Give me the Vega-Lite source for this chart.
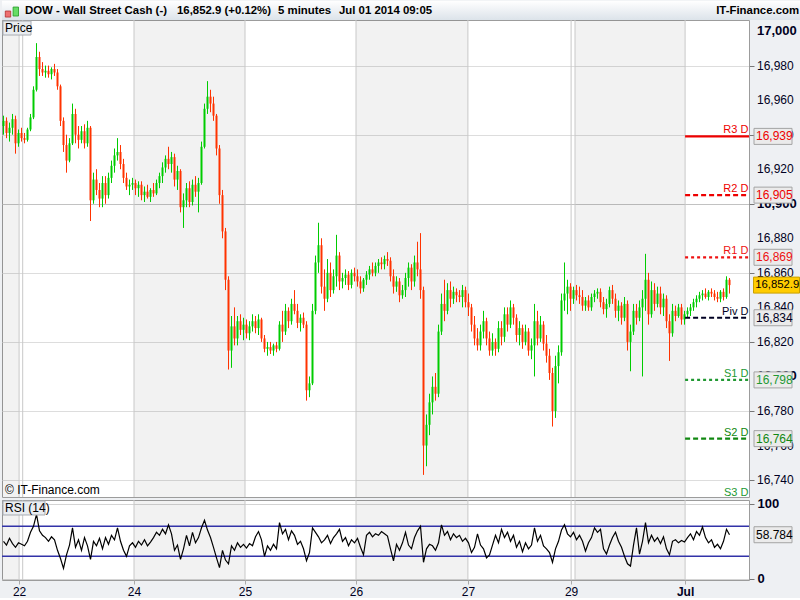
{
"$schema": "https://vega.github.io/schema/vega-lite/v6.json",
"background": "#eef0f3",
"padding": 0,
"spacing": 3,
"bounds": "flush",
"config": {
  "view": {"stroke": "#9c9c9c", "fill": "#ffffff"},
  "font": "Liberation Sans",
  "axis": {"labelFont": "Liberation Sans", "titleFont": "Liberation Sans", "labelOverlap": false},
  "text": {"font": "Liberation Sans"}
},
"resolve": {"scale": {"x": "independent", "y": "independent"}},
"datasets": {
  "one": [{"k": 1}],
  "yticks": [{"p":16740},{"p":16760},{"p":16780},{"p":16800},{"p":16820},{"p":16840},{"p":16860},{"p":16880},{"p":16900},{"p":16920},{"p":16940},{"p":16960},{"p":16980},{"p":17000}],
  "bands": [{"a": -0.5, "b": 5.2}, {"a": 43.5, "b": 80.5}, {"a": 117.5, "b": 154.8}, {"a": 190.5, "b": 227.2}],
  "days": [{"t": 5.2}, {"t": 6.4}, {"t": 43.5}, {"t": 80.5}, {"t": 117.5}, {"t": 154.8}, {"t": 189.2}, {"t": 190.5}, {"t": 227.2}],
  "pivots": [{"name": "R3 D", "v": 16939}, {"name": "R2 D", "v": 16905}, {"name": "R1 D", "v": 16869}, {"name": "Piv D", "v": 16834}, {"name": "S1 D", "v": 16798}, {"name": "S2 D", "v": 16764}, {"name": "S3 D", "v": 16729}],
  "candles": [
{"i":0,"o":16945,"h":16951,"l":16940,"c":16948,"r":50},
{"i":1,"o":16948,"h":16950,"l":16938,"c":16941,"r":45},
{"i":2,"o":16941,"h":16947,"l":16936,"c":16944,"r":54},
{"i":3,"o":16944,"h":16952,"l":16940,"c":16949,"r":47},
{"i":4,"o":16949,"h":16951,"l":16929,"c":16935,"r":42},
{"i":5,"o":16935,"h":16943,"l":16933,"c":16941,"r":48},
{"i":6,"o":16941,"h":16944,"l":16936,"c":16938,"r":46},
{"i":7,"o":16938,"h":16941,"l":16935,"c":16937,"r":44},
{"i":8,"o":16937,"h":16944,"l":16936,"c":16943,"r":50},
{"i":9,"o":16943,"h":16952,"l":16942,"c":16950,"r":62},
{"i":10,"o":16950,"h":16968,"l":16949,"c":16966,"r":70},
{"i":11,"o":16966,"h":16993,"l":16965,"c":16985,"r":86},
{"i":12,"o":16985,"h":16988,"l":16974,"c":16978,"r":64},
{"i":13,"o":16978,"h":16982,"l":16974,"c":16976,"r":58},
{"i":14,"o":16976,"h":16980,"l":16973,"c":16977,"r":55},
{"i":15,"o":16977,"h":16980,"l":16973,"c":16975,"r":50},
{"i":16,"o":16975,"h":16979,"l":16972,"c":16978,"r":56},
{"i":17,"o":16978,"h":16981,"l":16974,"c":16976,"r":52},
{"i":18,"o":16976,"h":16978,"l":16966,"c":16968,"r":38},
{"i":19,"o":16968,"h":16969,"l":16945,"c":16948,"r":27},
{"i":20,"o":16948,"h":16950,"l":16930,"c":16934,"r":14},
{"i":21,"o":16934,"h":16940,"l":16918,"c":16925,"r":32},
{"i":22,"o":16925,"h":16938,"l":16924,"c":16935,"r":45},
{"i":23,"o":16935,"h":16958,"l":16934,"c":16952,"r":68},
{"i":24,"o":16952,"h":16955,"l":16935,"c":16940,"r":42},
{"i":25,"o":16940,"h":16945,"l":16932,"c":16937,"r":52},
{"i":26,"o":16937,"h":16945,"l":16935,"c":16942,"r":38},
{"i":27,"o":16942,"h":16946,"l":16932,"c":16935,"r":55},
{"i":28,"o":16935,"h":16948,"l":16933,"c":16944,"r":44},
{"i":29,"o":16944,"h":16945,"l":16890,"c":16902,"r":26},
{"i":30,"o":16902,"h":16918,"l":16900,"c":16914,"r":50},
{"i":31,"o":16914,"h":16920,"l":16905,"c":16908,"r":44},
{"i":32,"o":16908,"h":16912,"l":16898,"c":16903,"r":54},
{"i":33,"o":16903,"h":16916,"l":16898,"c":16912,"r":40},
{"i":34,"o":16912,"h":16916,"l":16900,"c":16905,"r":55},
{"i":35,"o":16905,"h":16918,"l":16903,"c":16915,"r":46},
{"i":36,"o":16915,"h":16925,"l":16912,"c":16922,"r":58},
{"i":37,"o":16922,"h":16932,"l":16918,"c":16928,"r":52},
{"i":38,"o":16928,"h":16938,"l":16925,"c":16930,"r":68},
{"i":39,"o":16930,"h":16934,"l":16920,"c":16923,"r":50},
{"i":40,"o":16923,"h":16926,"l":16912,"c":16915,"r":38},
{"i":41,"o":16915,"h":16918,"l":16908,"c":16910,"r":30},
{"i":42,"o":16910,"h":16914,"l":16905,"c":16911,"r":44},
{"i":43,"o":16911,"h":16915,"l":16908,"c":16912,"r":48},
{"i":44,"o":16912,"h":16914,"l":16905,"c":16909,"r":42},
{"i":45,"o":16909,"h":16913,"l":16904,"c":16911,"r":50},
{"i":46,"o":16911,"h":16913,"l":16902,"c":16905,"r":45},
{"i":47,"o":16905,"h":16910,"l":16901,"c":16907,"r":52},
{"i":48,"o":16907,"h":16911,"l":16903,"c":16904,"r":44},
{"i":49,"o":16904,"h":16909,"l":16901,"c":16908,"r":49},
{"i":50,"o":16908,"h":16912,"l":16904,"c":16906,"r":55},
{"i":51,"o":16906,"h":16914,"l":16905,"c":16912,"r":62},
{"i":52,"o":16912,"h":16918,"l":16909,"c":16916,"r":58},
{"i":53,"o":16916,"h":16924,"l":16912,"c":16921,"r":66},
{"i":54,"o":16921,"h":16928,"l":16918,"c":16926,"r":60},
{"i":55,"o":16926,"h":16933,"l":16920,"c":16923,"r":72},
{"i":56,"o":16923,"h":16930,"l":16918,"c":16927,"r":60},
{"i":57,"o":16927,"h":16929,"l":16910,"c":16914,"r":38},
{"i":58,"o":16914,"h":16922,"l":16908,"c":16919,"r":45},
{"i":59,"o":16919,"h":16920,"l":16895,"c":16898,"r":26},
{"i":60,"o":16898,"h":16906,"l":16886,"c":16902,"r":40},
{"i":61,"o":16902,"h":16912,"l":16898,"c":16909,"r":58},
{"i":62,"o":16909,"h":16913,"l":16898,"c":16901,"r":44},
{"i":63,"o":16901,"h":16914,"l":16899,"c":16911,"r":62},
{"i":64,"o":16911,"h":16916,"l":16904,"c":16907,"r":48},
{"i":65,"o":16907,"h":16915,"l":16895,"c":16912,"r":55},
{"i":66,"o":16912,"h":16936,"l":16911,"c":16933,"r":68},
{"i":67,"o":16933,"h":16958,"l":16932,"c":16955,"r":78},
{"i":68,"o":16955,"h":16971,"l":16952,"c":16962,"r":65},
{"i":69,"o":16962,"h":16966,"l":16953,"c":16958,"r":55},
{"i":70,"o":16958,"h":16962,"l":16948,"c":16951,"r":42},
{"i":71,"o":16951,"h":16952,"l":16928,"c":16932,"r":28},
{"i":72,"o":16932,"h":16934,"l":16900,"c":16905,"r":15},
{"i":73,"o":16905,"h":16908,"l":16880,"c":16884,"r":38},
{"i":74,"o":16884,"h":16886,"l":16850,"c":16856,"r":25},
{"i":75,"o":16856,"h":16858,"l":16804,"c":16815,"r":20},
{"i":76,"o":16815,"h":16835,"l":16805,"c":16829,"r":44},
{"i":77,"o":16829,"h":16840,"l":16818,"c":16822,"r":38},
{"i":78,"o":16822,"h":16835,"l":16818,"c":16832,"r":48},
{"i":79,"o":16832,"h":16836,"l":16824,"c":16827,"r":42},
{"i":80,"o":16827,"h":16834,"l":16821,"c":16830,"r":46},
{"i":81,"o":16830,"h":16833,"l":16822,"c":16825,"r":41},
{"i":82,"o":16825,"h":16832,"l":16821,"c":16829,"r":47},
{"i":83,"o":16829,"h":16836,"l":16826,"c":16832,"r":44},
{"i":84,"o":16832,"h":16835,"l":16825,"c":16828,"r":56},
{"i":85,"o":16828,"h":16836,"l":16824,"c":16833,"r":63},
{"i":86,"o":16833,"h":16834,"l":16820,"c":16822,"r":52},
{"i":87,"o":16822,"h":16824,"l":16814,"c":16816,"r":30},
{"i":88,"o":16816,"h":16820,"l":16812,"c":16817,"r":44},
{"i":89,"o":16817,"h":16820,"l":16813,"c":16815,"r":38},
{"i":90,"o":16815,"h":16819,"l":16812,"c":16818,"r":46},
{"i":91,"o":16818,"h":16820,"l":16814,"c":16816,"r":40},
{"i":92,"o":16816,"h":16832,"l":16815,"c":16830,"r":75},
{"i":93,"o":16830,"h":16838,"l":16820,"c":16826,"r":60},
{"i":94,"o":16826,"h":16842,"l":16824,"c":16838,"r":66},
{"i":95,"o":16838,"h":16840,"l":16828,"c":16832,"r":52},
{"i":96,"o":16832,"h":16845,"l":16830,"c":16842,"r":64},
{"i":97,"o":16842,"h":16850,"l":16836,"c":16838,"r":58},
{"i":98,"o":16838,"h":16842,"l":16828,"c":16831,"r":46},
{"i":99,"o":16831,"h":16836,"l":16826,"c":16834,"r":50},
{"i":100,"o":16834,"h":16837,"l":16828,"c":16830,"r":40},
{"i":101,"o":16830,"h":16832,"l":16786,"c":16792,"r":24},
{"i":102,"o":16792,"h":16800,"l":16788,"c":16796,"r":35},
{"i":103,"o":16796,"h":16842,"l":16795,"c":16838,"r":68},
{"i":104,"o":16838,"h":16870,"l":16836,"c":16866,"r":62},
{"i":105,"o":16866,"h":16889,"l":16860,"c":16876,"r":56},
{"i":106,"o":16876,"h":16880,"l":16848,"c":16852,"r":48},
{"i":107,"o":16852,"h":16862,"l":16838,"c":16845,"r":52},
{"i":108,"o":16845,"h":16868,"l":16843,"c":16860,"r":58},
{"i":109,"o":16860,"h":16866,"l":16846,"c":16850,"r":47},
{"i":110,"o":16850,"h":16862,"l":16848,"c":16858,"r":55},
{"i":111,"o":16858,"h":16882,"l":16852,"c":16870,"r":60},
{"i":112,"o":16870,"h":16872,"l":16850,"c":16855,"r":66},
{"i":113,"o":16855,"h":16860,"l":16851,"c":16857,"r":50},
{"i":114,"o":16857,"h":16862,"l":16853,"c":16859,"r":55},
{"i":115,"o":16859,"h":16861,"l":16850,"c":16853,"r":44},
{"i":116,"o":16853,"h":16862,"l":16851,"c":16860,"r":52},
{"i":117,"o":16860,"h":16863,"l":16855,"c":16858,"r":48},
{"i":118,"o":16858,"h":16862,"l":16852,"c":16855,"r":54},
{"i":119,"o":16855,"h":16858,"l":16848,"c":16851,"r":42},
{"i":120,"o":16851,"h":16857,"l":16849,"c":16856,"r":32},
{"i":121,"o":16856,"h":16861,"l":16853,"c":16859,"r":58},
{"i":122,"o":16859,"h":16864,"l":16856,"c":16862,"r":62},
{"i":123,"o":16862,"h":16866,"l":16858,"c":16860,"r":56},
{"i":124,"o":16860,"h":16866,"l":16858,"c":16864,"r":60},
{"i":125,"o":16864,"h":16868,"l":16860,"c":16866,"r":58},
{"i":126,"o":16866,"h":16869,"l":16862,"c":16865,"r":63},
{"i":127,"o":16865,"h":16870,"l":16862,"c":16868,"r":60},
{"i":128,"o":16868,"h":16872,"l":16864,"c":16867,"r":57},
{"i":129,"o":16867,"h":16869,"l":16855,"c":16858,"r":40},
{"i":130,"o":16858,"h":16862,"l":16848,"c":16852,"r":24},
{"i":131,"o":16852,"h":16858,"l":16849,"c":16855,"r":46},
{"i":132,"o":16855,"h":16857,"l":16843,"c":16847,"r":38},
{"i":133,"o":16847,"h":16853,"l":16845,"c":16850,"r":48},
{"i":134,"o":16850,"h":16860,"l":16846,"c":16857,"r":62},
{"i":135,"o":16857,"h":16866,"l":16852,"c":16863,"r":45},
{"i":136,"o":16863,"h":16865,"l":16850,"c":16855,"r":40},
{"i":137,"o":16855,"h":16870,"l":16852,"c":16866,"r":55},
{"i":138,"o":16866,"h":16878,"l":16858,"c":16862,"r":64},
{"i":139,"o":16862,"h":16883,"l":16845,"c":16850,"r":70},
{"i":140,"o":16850,"h":16852,"l":16743,"c":16760,"r":22},
{"i":141,"o":16760,"h":16778,"l":16748,"c":16772,"r":40},
{"i":142,"o":16772,"h":16790,"l":16766,"c":16785,"r":46},
{"i":143,"o":16785,"h":16800,"l":16778,"c":16794,"r":44},
{"i":144,"o":16794,"h":16802,"l":16786,"c":16790,"r":38},
{"i":145,"o":16790,"h":16830,"l":16788,"c":16826,"r":48},
{"i":146,"o":16826,"h":16848,"l":16824,"c":16842,"r":72},
{"i":147,"o":16842,"h":16856,"l":16832,"c":16838,"r":58},
{"i":148,"o":16838,"h":16854,"l":16836,"c":16850,"r":63},
{"i":149,"o":16850,"h":16855,"l":16840,"c":16845,"r":52},
{"i":150,"o":16845,"h":16852,"l":16842,"c":16849,"r":60},
{"i":151,"o":16849,"h":16851,"l":16843,"c":16847,"r":55},
{"i":152,"o":16847,"h":16850,"l":16843,"c":16846,"r":58},
{"i":153,"o":16846,"h":16853,"l":16840,"c":16850,"r":50},
{"i":154,"o":16850,"h":16852,"l":16840,"c":16843,"r":54},
{"i":155,"o":16843,"h":16848,"l":16835,"c":16840,"r":48},
{"i":156,"o":16840,"h":16842,"l":16826,"c":16830,"r":35},
{"i":157,"o":16830,"h":16835,"l":16818,"c":16822,"r":42},
{"i":158,"o":16822,"h":16828,"l":16815,"c":16818,"r":60},
{"i":159,"o":16818,"h":16830,"l":16815,"c":16826,"r":45},
{"i":160,"o":16826,"h":16838,"l":16822,"c":16832,"r":40},
{"i":161,"o":16832,"h":16834,"l":16818,"c":16822,"r":28},
{"i":162,"o":16822,"h":16826,"l":16812,"c":16815,"r":32},
{"i":163,"o":16815,"h":16825,"l":16812,"c":16820,"r":45},
{"i":164,"o":16820,"h":16822,"l":16812,"c":16816,"r":58},
{"i":165,"o":16816,"h":16832,"l":16814,"c":16828,"r":48},
{"i":166,"o":16828,"h":16832,"l":16818,"c":16823,"r":66},
{"i":167,"o":16823,"h":16840,"l":16820,"c":16836,"r":55},
{"i":168,"o":16836,"h":16840,"l":16826,"c":16830,"r":62},
{"i":169,"o":16830,"h":16844,"l":16828,"c":16840,"r":50},
{"i":170,"o":16840,"h":16842,"l":16830,"c":16834,"r":58},
{"i":171,"o":16834,"h":16836,"l":16820,"c":16824,"r":42},
{"i":172,"o":16824,"h":16832,"l":16818,"c":16828,"r":50},
{"i":173,"o":16828,"h":16830,"l":16816,"c":16820,"r":36},
{"i":174,"o":16820,"h":16830,"l":16818,"c":16826,"r":48},
{"i":175,"o":16826,"h":16828,"l":16812,"c":16815,"r":40},
{"i":176,"o":16815,"h":16822,"l":16810,"c":16818,"r":45},
{"i":177,"o":16818,"h":16842,"l":16800,"c":16832,"r":68},
{"i":178,"o":16832,"h":16838,"l":16818,"c":16822,"r":50},
{"i":179,"o":16822,"h":16835,"l":16820,"c":16830,"r":58},
{"i":180,"o":16830,"h":16832,"l":16815,"c":16819,"r":44},
{"i":181,"o":16819,"h":16824,"l":16808,"c":16812,"r":40},
{"i":182,"o":16812,"h":16816,"l":16798,"c":16802,"r":35},
{"i":183,"o":16802,"h":16805,"l":16771,"c":16780,"r":22},
{"i":184,"o":16780,"h":16812,"l":16776,"c":16806,"r":40},
{"i":185,"o":16806,"h":16818,"l":16796,"c":16814,"r":50},
{"i":186,"o":16814,"h":16848,"l":16812,"c":16844,"r":65},
{"i":187,"o":16844,"h":16866,"l":16838,"c":16848,"r":72},
{"i":188,"o":16848,"h":16856,"l":16836,"c":16852,"r":60},
{"i":189,"o":16852,"h":16854,"l":16838,"c":16845,"r":56},
{"i":190,"o":16845,"h":16852,"l":16842,"c":16850,"r":62},
{"i":191,"o":16850,"h":16853,"l":16844,"c":16847,"r":52},
{"i":192,"o":16847,"h":16852,"l":16842,"c":16846,"r":58},
{"i":193,"o":16846,"h":16850,"l":16838,"c":16841,"r":50},
{"i":194,"o":16841,"h":16846,"l":16838,"c":16844,"r":37},
{"i":195,"o":16844,"h":16847,"l":16838,"c":16840,"r":48},
{"i":196,"o":16840,"h":16848,"l":16838,"c":16846,"r":55},
{"i":197,"o":16846,"h":16850,"l":16843,"c":16848,"r":68},
{"i":198,"o":16848,"h":16851,"l":16845,"c":16849,"r":62},
{"i":199,"o":16849,"h":16851,"l":16840,"c":16843,"r":66},
{"i":200,"o":16843,"h":16846,"l":16836,"c":16839,"r":40},
{"i":201,"o":16839,"h":16845,"l":16834,"c":16842,"r":33},
{"i":202,"o":16842,"h":16852,"l":16840,"c":16850,"r":45},
{"i":203,"o":16850,"h":16853,"l":16842,"c":16845,"r":55},
{"i":204,"o":16845,"h":16848,"l":16834,"c":16838,"r":62},
{"i":205,"o":16838,"h":16844,"l":16832,"c":16841,"r":50},
{"i":206,"o":16841,"h":16843,"l":16830,"c":16834,"r":42},
{"i":207,"o":16834,"h":16846,"l":16832,"c":16842,"r":30},
{"i":208,"o":16842,"h":16844,"l":16815,"c":16820,"r":20},
{"i":209,"o":16820,"h":16830,"l":16803,"c":16826,"r":17},
{"i":210,"o":16826,"h":16842,"l":16824,"c":16838,"r":45},
{"i":211,"o":16838,"h":16842,"l":16830,"c":16834,"r":68},
{"i":212,"o":16834,"h":16844,"l":16832,"c":16840,"r":33},
{"i":213,"o":16840,"h":16850,"l":16800,"c":16845,"r":50},
{"i":214,"o":16845,"h":16871,"l":16838,"c":16856,"r":75},
{"i":215,"o":16856,"h":16860,"l":16830,"c":16836,"r":48},
{"i":216,"o":16836,"h":16855,"l":16834,"c":16850,"r":58},
{"i":217,"o":16850,"h":16854,"l":16838,"c":16842,"r":50},
{"i":218,"o":16842,"h":16852,"l":16840,"c":16848,"r":55},
{"i":219,"o":16848,"h":16852,"l":16836,"c":16840,"r":47},
{"i":220,"o":16840,"h":16848,"l":16835,"c":16845,"r":56},
{"i":221,"o":16845,"h":16847,"l":16828,"c":16832,"r":40},
{"i":222,"o":16832,"h":16836,"l":16809,"c":16825,"r":32},
{"i":223,"o":16825,"h":16842,"l":16823,"c":16838,"r":50},
{"i":224,"o":16838,"h":16841,"l":16832,"c":16835,"r":52},
{"i":225,"o":16835,"h":16842,"l":16834,"c":16840,"r":48},
{"i":226,"o":16840,"h":16842,"l":16830,"c":16833,"r":51},
{"i":227,"o":16833,"h":16838,"l":16830,"c":16836,"r":49},
{"i":228,"o":16836,"h":16840,"l":16834,"c":16838,"r":55},
{"i":229,"o":16838,"h":16842,"l":16835,"c":16840,"r":60},
{"i":230,"o":16840,"h":16845,"l":16838,"c":16843,"r":52},
{"i":231,"o":16843,"h":16847,"l":16840,"c":16845,"r":63},
{"i":232,"o":16845,"h":16849,"l":16843,"c":16847,"r":58},
{"i":233,"o":16847,"h":16850,"l":16844,"c":16848,"r":69},
{"i":234,"o":16848,"h":16851,"l":16845,"c":16846,"r":55},
{"i":235,"o":16846,"h":16850,"l":16844,"c":16849,"r":48},
{"i":236,"o":16849,"h":16851,"l":16846,"c":16848,"r":52},
{"i":237,"o":16848,"h":16850,"l":16844,"c":16846,"r":42},
{"i":238,"o":16846,"h":16849,"l":16843,"c":16845,"r":46},
{"i":239,"o":16845,"h":16850,"l":16843,"c":16849,"r":40},
{"i":240,"o":16849,"h":16851,"l":16844,"c":16846,"r":50},
{"i":241,"o":16846,"h":16858,"l":16845,"c":16856,"r":66},
{"i":242,"o":16856,"h":16857,"l":16848,"c":16852.9,"r":58.784}
  ]
},
"vconcat": [
{
  "width": 747,
  "height": 477,
  "layer": [
    {"data": {"name": "bands"}, "mark": {"type": "rect", "fill": "#000000", "fillOpacity": 0.05},
     "encoding": {"x": {"field": "a", "type": "quantitative", "scale": {"domain": [-0.5, 248.5], "nice": false, "zero": false, "padding": 0}, "axis": null}, "x2": {"field": "b"}}},
    {"data": {"name": "days"}, "mark": {"type": "rule", "color": "#c8c8c8", "strokeWidth": 1},
     "encoding": {"x": {"field": "t", "type": "quantitative", "axis": null}}},
    {"data": {"name": "candles"}, "mark": {"type": "rule", "strokeWidth": 1},
     "encoding": {
       "x": {"field": "i", "type": "quantitative", "axis": null},
       "y": {"field": "l", "type": "quantitative", "scale": {"domain": [16730.2, 17006.4], "nice": false, "zero": false, "padding": 0},
             "axis": {"orient": "right", "title": null,
                      "values": [16740,16750,16760,16770,16780,16790,16800,16810,16820,16830,16840,16850,16860,16870,16880,16890,16900,16910,16920,16930,16940,16950,16960,16970,16980,16990,17000],
                      "labels": false,
                      "tickSize": {"condition": {"test": "datum.value % 20 === 0", "value": 5}, "value": 3},
                      "tickColor": "#777777", "ticks": true, "grid": true,
                      "gridColor": {"condition": {"test": "datum.value % 100 === 0", "value": "#c2c2c2"}, "value": "#dddddd"},
                      "gridOpacity": {"condition": {"test": "datum.value % 20 !== 0", "value": 0}, "value": 1},
                      "domain": false}},
       "y2": {"field": "h"},
       "color": {"condition": {"test": "datum.c >= datum.o", "value": "#00cc00"}, "value": "#ff3300"}}},
    {"data": {"name": "candles"}, "mark": {"type": "bar", "width": 2},
     "encoding": {
       "x": {"field": "i", "type": "quantitative", "axis": null},
       "y": {"field": "o", "type": "quantitative"},
       "y2": {"field": "c"},
       "color": {"condition": {"test": "datum.c >= datum.o", "value": "#00cc00"}, "value": "#ff3300"}}},
    {"data": {"name": "yticks"}, "transform": [{"filter": "datum.p % 100 !== 0"}],
     "mark": {"type": "text", "align": "left", "baseline": "middle", "fontSize": 12, "color": "#000022", "clip": false},
     "encoding": {
       "x": {"datum": 251.17, "type": "quantitative", "axis": null},
       "y": {"field": "p", "type": "quantitative"},
       "text": {"field": "p", "type": "quantitative", "format": ","}}},
    {"data": {"name": "yticks"}, "transform": [{"filter": "datum.p % 100 === 0"}],
     "mark": {"type": "text", "align": "left", "baseline": "middle", "fontSize": 13, "fontWeight": "bold", "color": "#000022", "clip": false},
     "encoding": {
       "x": {"datum": 251.17, "type": "quantitative", "axis": null},
       "y": {"field": "p", "type": "quantitative"},
       "text": {"field": "p", "type": "quantitative", "format": ","}}},
    {"data": {"name": "pivots"}, "mark": {"type": "rule", "clip": true},
     "encoding": {
       "x": {"datum": 227.2, "type": "quantitative", "axis": null},
       "x2": {"datum": 248.5},
       "y": {"field": "v", "type": "quantitative"},
       "color": {"field": "name", "type": "nominal", "scale": {"domain": ["R3 D","R2 D","R1 D","Piv D","S1 D","S2 D","S3 D"], "range": ["#ee0000","#ee0000","#ee1111","#000022","#229933","#118811","#229933"]}, "legend": null},
       "strokeWidth": {"field": "name", "type": "nominal", "scale": {"domain": ["R3 D","R2 D","R1 D","Piv D","S1 D","S2 D","S3 D"], "range": [2.2, 2.2, 1, 2.5, 1, 2.2, 2.2]}, "legend": null},
       "strokeDash": {"field": "name", "type": "nominal", "scale": {"domain": ["R3 D","R2 D","R1 D","Piv D","S1 D","S2 D","S3 D"], "range": [[1,0],[5,3],[3,3],[5,3],[3,3],[5,3],[5,3]]}, "legend": null}}},
    {"data": {"name": "pivots"}, "mark": {"type": "text", "align": "right", "baseline": "bottom", "dy": -1, "fontSize": 11, "clip": false},
     "encoding": {
       "x": {"datum": 248.3, "type": "quantitative", "axis": null},
       "y": {"field": "v", "type": "quantitative"},
       "text": {"field": "name"},
       "color": {"field": "name", "type": "nominal", "legend": null}}},
    {"data": {"name": "pivots"}, "transform": [{"filter": "datum.name !== 'S3 D'"}],
     "mark": {"type": "rect", "width": 38, "height": 16, "fill": "#ebebeb", "stroke": "#a4a4a4", "strokeWidth": 1, "clip": false},
     "encoding": {
       "x": {"datum": 256.5, "type": "quantitative", "axis": null},
       "y": {"field": "v", "type": "quantitative"}}},
    {"data": {"name": "pivots"}, "transform": [{"filter": "datum.name !== 'S3 D'"}],
     "mark": {"type": "text", "align": "left", "baseline": "middle", "fontSize": 12, "clip": false},
     "encoding": {
       "x": {"datum": 250.83, "type": "quantitative", "axis": null},
       "y": {"field": "v", "type": "quantitative"},
       "text": {"field": "v", "type": "quantitative", "format": ","},
       "color": {"field": "name", "type": "nominal", "legend": null}}},
    {"data": {"name": "candles"}, "transform": [{"filter": "datum.i === 242"}],
     "mark": {"type": "rect", "width": 46, "height": 16, "fill": "#ffcc00", "stroke": "#c9a000", "strokeWidth": 1, "clip": false},
     "encoding": {
       "x": {"datum": 257.67, "type": "quantitative", "axis": null},
       "y": {"field": "c", "type": "quantitative"}}},
    {"data": {"name": "candles"}, "transform": [{"filter": "datum.i === 242"}],
     "mark": {"type": "text", "align": "left", "baseline": "middle", "fontSize": 11.3, "color": "#000000", "clip": false},
     "encoding": {
       "x": {"datum": 250.6, "type": "quantitative", "axis": null},
       "y": {"field": "c", "type": "quantitative"},
       "text": {"field": "c", "type": "quantitative", "format": ",.1f"}}},
    {"data": {"name": "one"}, "mark": {"type": "rect", "clip": false, "fill": {"gradient": "linear", "x1": 0, "y1": 0, "x2": 0, "y2": 1, "stops": [{"offset": 0, "color": "#ffffff"}, {"offset": 1, "color": "#dce3ea"}]}},
     "encoding": {
       "x": {"datum": -0.5, "type": "quantitative", "axis": null}, "x2": {"datum": 266.3},
       "y": {"datum": 17017.5, "type": "quantitative"}, "y2": {"datum": 17006.4}}},
    {"data": {"name": "one"}, "mark": {"type": "rect", "clip": false, "fill": "#ee7070", "stroke": "#b03030", "strokeWidth": 0.8},
     "encoding": {
       "x": {"datum": 0.6, "type": "quantitative", "axis": null}, "x2": {"datum": 2.4},
       "y": {"datum": 17011.6, "type": "quantitative"}, "y2": {"datum": 17008.1}}},
    {"data": {"name": "one"}, "mark": {"type": "rect", "clip": false, "fill": "#66dd66", "stroke": "#229922", "strokeWidth": 0.8},
     "encoding": {
       "x": {"datum": 3.2, "type": "quantitative", "axis": null}, "x2": {"datum": 5.0},
       "y": {"datum": 17013.9, "type": "quantitative"}, "y2": {"datum": 17008.7}}},
    {"data": {"name": "one"}, "mark": {"type": "text", "align": "left", "baseline": "middle", "fontSize": 11.4, "fontWeight": "bold", "color": "#000000", "clip": false, "text": "DOW - Wall Street Cash (-)"},
     "encoding": {"x": {"datum": 7.17, "type": "quantitative", "axis": null}, "y": {"datum": 17011.6, "type": "quantitative"}}},
    {"data": {"name": "one"}, "mark": {"type": "text", "align": "left", "baseline": "middle", "fontSize": 11.4, "fontWeight": "bold", "color": "#000000", "clip": false, "text": "16,852.9 (+0.12%)"},
     "encoding": {"x": {"datum": 57.83, "type": "quantitative", "axis": null}, "y": {"datum": 17011.6, "type": "quantitative"}}},
    {"data": {"name": "one"}, "mark": {"type": "text", "align": "left", "baseline": "middle", "fontSize": 11.4, "fontWeight": "bold", "color": "#000000", "clip": false, "text": "5 minutes"},
     "encoding": {"x": {"datum": 91.5, "type": "quantitative", "axis": null}, "y": {"datum": 17011.6, "type": "quantitative"}}},
    {"data": {"name": "one"}, "mark": {"type": "text", "align": "left", "baseline": "middle", "fontSize": 11.4, "fontWeight": "bold", "color": "#000000", "clip": false, "text": "Jul 01 2014 09:05"},
     "encoding": {"x": {"datum": 111.83, "type": "quantitative", "axis": null}, "y": {"datum": 17011.6, "type": "quantitative"}}},
    {"data": {"name": "one"}, "mark": {"type": "text", "align": "right", "baseline": "middle", "fontSize": 11.4, "fontWeight": "bold", "color": "#000000", "clip": false, "text": "IT-Finance.com"},
     "encoding": {"x": {"datum": 265.2, "type": "quantitative", "axis": null}, "y": {"datum": 17011.6, "type": "quantitative"}}},
    {"data": {"name": "one"}, "mark": {"type": "rect", "clip": false, "fill": "#e9ecf0", "stroke": "#a8acb2", "strokeWidth": 1},
     "encoding": {
       "x": {"datum": -0.17, "type": "quantitative", "axis": null}, "x2": {"datum": 9.17},
       "y": {"datum": 17005.8, "type": "quantitative"}, "y2": {"datum": 16997.7}}},
    {"data": {"name": "one"}, "mark": {"type": "text", "align": "left", "baseline": "middle", "fontSize": 12, "color": "#000000", "clip": false, "text": "Price"},
     "encoding": {"x": {"datum": 0.5, "type": "quantitative", "axis": null}, "y": {"datum": 17001.6, "type": "quantitative"}}},
    {"data": {"name": "one"}, "mark": {"type": "text", "align": "left", "baseline": "middle", "fontSize": 12, "color": "#000000", "clip": false, "text": "© IT-Finance.com"},
     "encoding": {"x": {"datum": 0.5, "type": "quantitative", "axis": null}, "y": {"datum": 16734.0, "type": "quantitative"}}}
  ]
},
{
  "width": 747,
  "height": 80,
  "layer": [
    {"data": {"name": "bands"}, "mark": {"type": "rect", "fill": "#000000", "fillOpacity": 0.05},
     "encoding": {"x": {"field": "a", "type": "quantitative", "scale": {"domain": [-0.5, 248.5], "nice": false, "zero": false, "padding": 0},
        "axis": {"values": [5.2, 43.5, 80.5, 117.5, 154.8, 189.2, 227.2],
                 "labelExpr": "datum.value < 10 ? '22' : datum.value < 50 ? '24' : datum.value < 90 ? '25' : datum.value < 120 ? '26' : datum.value < 160 ? '27' : datum.value < 200 ? '29' : 'Jul'",
                 "labelFontWeight": {"condition": {"test": "datum.value > 200", "value": "bold"}, "value": "normal"},
                 "labelFontSize": 12, "labelColor": "#000022", "grid": false, "domain": false, "ticks": true, "labels": true, "tickSize": 4, "tickColor": "#aaaaaa",
                 "labelPadding": 2, "title": null, "labelFlush": false, "labelOverlap": false}},
        "x2": {"field": "b"}}},
    {"data": {"name": "days"}, "mark": {"type": "rule", "color": "#c8c8c8", "strokeWidth": 1},
     "encoding": {"x": {"field": "t", "type": "quantitative"}}},
    {"data": {"name": "one"}, "mark": {"type": "rule", "color": "#3232a8", "strokeWidth": 1.5},
     "encoding": {"y": {"datum": 70, "type": "quantitative"}}},
    {"data": {"name": "one"}, "mark": {"type": "rule", "color": "#3232a8", "strokeWidth": 1.5},
     "encoding": {"y": {"datum": 30, "type": "quantitative"}}},
    {"data": {"name": "candles"}, "mark": {"type": "line", "color": "#000000", "strokeWidth": 1.2},
     "encoding": {
       "x": {"field": "i", "type": "quantitative"},
       "y": {"field": "r", "type": "quantitative", "scale": {"domain": [-1.6, 105.1], "nice": false, "zero": false, "padding": 0},
             "axis": {"orient": "right", "title": null, "values": [0, 50, 100], "grid": true, "ticks": true, "labels": true, "gridColor": "#d4d4d4", "domain": false,
                      "tickSize": 5, "tickColor": "#777777", "labelFontSize": 13, "labelColor": "#000022", "labelPadding": 3,
                      "labelFontWeight": {"condition": {"test": "datum.value !== 50", "value": "bold"}, "value": "normal"},
                      "labelOverlap": false, "labelFlush": false, "labelBound": false}}}},
    {"data": {"name": "candles"}, "transform": [{"filter": "datum.i === 242"}],
     "mark": {"type": "rect", "width": 38, "height": 16, "fill": "#ebebeb", "stroke": "#a4a4a4", "strokeWidth": 1, "clip": false},
     "encoding": {
       "x": {"datum": 256.5, "type": "quantitative"},
       "y": {"field": "r", "type": "quantitative"}}},
    {"data": {"name": "candles"}, "transform": [{"filter": "datum.i === 242"}],
     "mark": {"type": "text", "align": "left", "baseline": "middle", "fontSize": 12, "color": "#000000", "clip": false},
     "encoding": {
       "x": {"datum": 250.83, "type": "quantitative"},
       "y": {"field": "r", "type": "quantitative"},
       "text": {"field": "r", "type": "quantitative", "format": ".3f"}}},
    {"data": {"name": "one"}, "mark": {"type": "rect", "clip": false, "fill": "#e9ecf0", "stroke": "#a8acb2", "strokeWidth": 1},
     "encoding": {
       "x": {"datum": -0.17, "type": "quantitative"}, "x2": {"datum": 13.83},
       "y": {"datum": 103.8, "type": "quantitative"}, "y2": {"datum": 85.1}}},
    {"data": {"name": "one"}, "mark": {"type": "text", "align": "left", "baseline": "middle", "fontSize": 12, "color": "#000000", "clip": false, "text": "RSI (14)"},
     "encoding": {"x": {"datum": 0.5, "type": "quantitative"}, "y": {"datum": 94.5, "type": "quantitative"}}}
  ]
}
]
}
